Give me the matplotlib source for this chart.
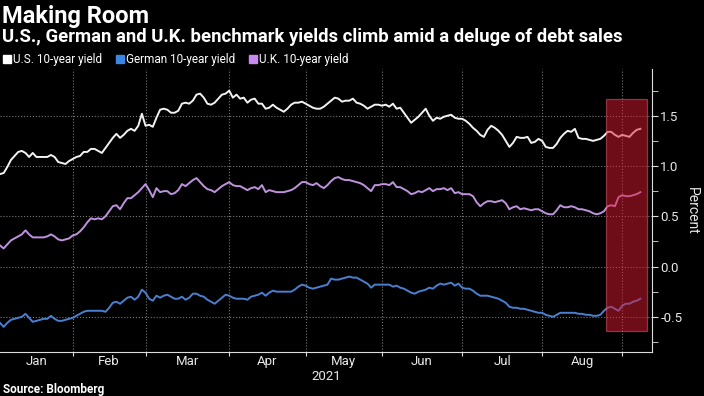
import numpy as np
import pandas as pd
import matplotlib
matplotlib.use('Agg')
import matplotlib.pyplot as plt
from matplotlib.lines import Line2D
from matplotlib.patches import Rectangle

plt.rcParams['font.family'] = ['Roboto', 'DejaVu Sans']

# trading days shown on the chart (Good Friday is missing)
dates = pd.bdate_range('2021-01-04', '2021-09-08').drop(pd.Timestamp('2021-04-02'))

us_10y = [
    0.92, 0.93, 0.99, 1.06, 1.10, 1.14, 1.15, 1.13, 1.09, 1.13,
    1.09, 1.09, 1.09, 1.09, 1.11, 1.09, 1.04, 1.03, 1.02, 1.05,
    1.07, 1.09, 1.10, 1.14, 1.14, 1.17, 1.17, 1.15, 1.13, 1.18,
    1.23, 1.28, 1.32, 1.28, 1.31, 1.35, 1.37, 1.35, 1.40, 1.52,
    1.40, 1.41, 1.39, 1.48, 1.56, 1.57, 1.56, 1.53, 1.53, 1.55,
    1.62, 1.63, 1.62, 1.65, 1.71, 1.72, 1.68, 1.62, 1.61, 1.63,
    1.67, 1.71, 1.72, 1.75, 1.68, 1.71, 1.67, 1.68, 1.63, 1.66,
    1.67, 1.62, 1.62, 1.57, 1.58, 1.61, 1.58, 1.56, 1.54, 1.57,
    1.61, 1.63, 1.63, 1.64, 1.62, 1.60, 1.58, 1.57, 1.57, 1.59,
    1.62, 1.65, 1.68, 1.67, 1.64, 1.65, 1.65, 1.67, 1.63, 1.62,
    1.60, 1.57, 1.59, 1.61, 1.61, 1.60, 1.61, 1.59, 1.62, 1.57,
    1.58, 1.53, 1.48, 1.43, 1.46, 1.49, 1.53, 1.57, 1.50, 1.45,
    1.48, 1.47, 1.49, 1.50, 1.51, 1.48, 1.47, 1.47, 1.45, 1.42,
    1.38, 1.35, 1.31, 1.29, 1.36, 1.40, 1.38, 1.35, 1.31, 1.25,
    1.19, 1.23, 1.29, 1.28, 1.28, 1.29, 1.23, 1.24, 1.27, 1.25,
    1.19, 1.18, 1.18, 1.22, 1.28, 1.32, 1.35, 1.34, 1.37, 1.28,
    1.27, 1.27, 1.26, 1.25, 1.26, 1.27, 1.30, 1.34, 1.34, 1.31,
    1.29, 1.31, 1.30, 1.29, 1.33, 1.36, 1.37]

de_10y = [
    -0.56, -0.60, -0.56, -0.53, -0.52, -0.51, -0.50, -0.47, -0.51, -0.55,
    -0.54, -0.53, -0.52, -0.52, -0.49, -0.52, -0.54, -0.54, -0.53, -0.52,
    -0.51, -0.49, -0.47, -0.45, -0.44, -0.44, -0.44, -0.44, -0.44, -0.45,
    -0.41, -0.36, -0.35, -0.37, -0.34, -0.31, -0.30, -0.33, -0.30, -0.23,
    -0.26, -0.32, -0.34, -0.29, -0.31, -0.29, -0.28, -0.30, -0.32, -0.32,
    -0.30, -0.33, -0.31, -0.27, -0.27, -0.29, -0.30, -0.33, -0.35, -0.37,
    -0.34, -0.31, -0.28, -0.29, -0.31, -0.32, -0.32, -0.32, -0.33, -0.30,
    -0.29, -0.28, -0.26, -0.29, -0.26, -0.24, -0.25, -0.25, -0.25, -0.25,
    -0.25, -0.23, -0.20, -0.18, -0.19, -0.21, -0.22, -0.21, -0.20, -0.19,
    -0.18, -0.12, -0.13, -0.13, -0.12, -0.11, -0.10, -0.11, -0.11, -0.13,
    -0.15, -0.17, -0.21, -0.18, -0.18, -0.18, -0.18, -0.18, -0.20, -0.19,
    -0.21, -0.22, -0.24, -0.26, -0.27, -0.25, -0.24, -0.23, -0.21, -0.22,
    -0.19, -0.17, -0.18, -0.17, -0.16, -0.19, -0.17, -0.21, -0.22, -0.22,
    -0.24, -0.27, -0.29, -0.29, -0.29, -0.30, -0.31, -0.32, -0.34, -0.36,
    -0.40, -0.41, -0.41, -0.42, -0.42, -0.43, -0.44, -0.45, -0.46, -0.46,
    -0.48, -0.49, -0.50, -0.48, -0.46, -0.46, -0.46, -0.46, -0.46, -0.47,
    -0.47, -0.48, -0.48, -0.49, -0.49, -0.48, -0.44, -0.41, -0.40, -0.42,
    -0.44, -0.39, -0.37, -0.37, -0.35, -0.34, -0.32]

uk_10y = [
    0.21, 0.18, 0.22, 0.26, 0.28, 0.30, 0.32, 0.36, 0.32, 0.29,
    0.29, 0.29, 0.29, 0.30, 0.32, 0.30, 0.27, 0.26, 0.27, 0.28,
    0.31, 0.32, 0.35, 0.39, 0.44, 0.48, 0.47, 0.48, 0.47, 0.50,
    0.55, 0.60, 0.61, 0.57, 0.63, 0.68, 0.68, 0.71, 0.74, 0.78,
    0.82, 0.76, 0.69, 0.78, 0.74, 0.75, 0.75, 0.72, 0.73, 0.76,
    0.82, 0.80, 0.83, 0.86, 0.88, 0.84, 0.80, 0.77, 0.76, 0.74,
    0.77, 0.80, 0.82, 0.84, 0.81, 0.80, 0.80, 0.78, 0.76, 0.78,
    0.79, 0.77, 0.81, 0.74, 0.76, 0.75, 0.74, 0.74, 0.74, 0.75,
    0.76, 0.78, 0.81, 0.84, 0.84, 0.82, 0.81, 0.83, 0.80, 0.78,
    0.81, 0.85, 0.88, 0.89, 0.87, 0.86, 0.86, 0.85, 0.84, 0.83,
    0.81, 0.78, 0.75, 0.81, 0.81, 0.82, 0.82, 0.81, 0.84, 0.79,
    0.79, 0.77, 0.75, 0.72, 0.73, 0.75, 0.74, 0.76, 0.78, 0.75,
    0.77, 0.77, 0.78, 0.76, 0.78, 0.73, 0.74, 0.72, 0.72, 0.72,
    0.70, 0.64, 0.60, 0.63, 0.65, 0.65, 0.64, 0.65, 0.66, 0.63,
    0.57, 0.59, 0.60, 0.57, 0.58, 0.57, 0.56, 0.57, 0.57, 0.55,
    0.53, 0.52, 0.52, 0.56, 0.61, 0.59, 0.59, 0.60, 0.59, 0.57,
    0.57, 0.56, 0.55, 0.53, 0.52, 0.53, 0.55, 0.60, 0.61, 0.60,
    0.69, 0.71, 0.70, 0.70, 0.71, 0.72, 0.74]

labels = ['U.S. 10-year yield', 'German 10-year yield', 'U.K. 10-year yield']
colors = ['#f2f2f2', '#4a80d0', '#bf93e0']
legend_colors = ['#ffffff', '#3a86e6', '#c88af0']
month_labels = ['Jan', 'Feb', 'Mar', 'Apr', 'May', 'Jun', 'Jul', 'Aug']

x = np.arange(len(dates))

# first trading day of each month -> gridlines, month names in between
month_start = [i for i in range(1, len(dates)) if dates[i].month != dates[i - 1].month]
edges = [0] + month_start
label_pos = [(edges[k] + edges[k + 1]) / 2 for k in range(len(month_labels))]

fig = plt.figure(figsize=(7.04, 3.96), dpi=100, facecolor='black')
ax = fig.add_axes([0.0, 44 / 396, 652 / 704, 283 / 396])
ax.set_facecolor('black')

for series, c in zip([us_10y, de_10y, uk_10y], colors):
    ax.plot(x, series, color=c, lw=1.4, zorder=3)

# highlighted period
ax.add_patch(Rectangle((166.5, -0.646), 11.3, 2.316, facecolor='#dc1830',
                       edgecolor='#f06070', lw=0.9, alpha=0.5, zorder=4))

ax.set_xlim(0, 179.2)
ax.set_ylim(-0.85, 1.965)

ax.set_xticks(month_start)
ax.set_xticklabels([])
ax.set_xticks(label_pos, minor=True)
ax.set_xticklabels(month_labels, minor=True)
ax.tick_params(axis='x', which='major', length=3, color='#dddddd')
ax.tick_params(axis='x', which='minor', length=0, pad=2, labelsize=9.5, labelcolor='#e8e8e8')

ax.yaxis.tick_right()
ax.yaxis.set_label_position('right')
ax.set_yticks([-0.5, 0.0, 0.5, 1.0, 1.5])
ax.set_yticklabels(['-0.5', '0.0', '0.5', '1.0', '1.5'])
ax.set_yticks([-0.75, -0.25, 0.25, 0.75, 1.25, 1.75], minor=True)
ax.tick_params(axis='y', which='both', length=4, color='#dddddd', pad=2,
               labelsize=9.5, labelcolor='#e8e8e8')
ax.set_ylabel('Percent', rotation=270, color='#e8e8e8', fontsize=10, labelpad=12)

ax.grid(True, which='major', color='#777777', linestyle=':', linewidth=0.8)
for s in ['top', 'left']:
    ax.spines[s].set_visible(False)
for s in ['right', 'bottom']:
    ax.spines[s].set_color('#dddddd')

# titles and legend
fig.text(0.003, 1 - 16 / 396, 'Making Room', color='white', fontsize=17,
         fontweight='bold', va='center')
fig.text(0.003, 1 - 37 / 396, 'U.S., German and U.K. benchmark yields climb amid a deluge of debt sales',
         color='white', fontsize=13.3, fontweight='bold', va='center')
handles = [Line2D([], [], marker='s', ls='none', color=c, markersize=6) for c in legend_colors]
fig.legend(handles, labels, loc='center left', bbox_to_anchor=(-0.003, 1 - 60 / 396), ncol=3,
           frameon=False, fontsize=8.5, labelcolor='white', handlelength=0.8,
           handletextpad=0.1, columnspacing=1.1, borderaxespad=0)

fig.text(326 / 704, 1 - 376 / 396, '2021', color='#e8e8e8', fontsize=9.5, ha='center', va='center')
fig.text(0.004, 1 - 389 / 396, 'Source: Bloomberg', color='white', fontsize=8.5,
         fontweight='bold', va='center')

fig.savefig('out.png', dpi=100, facecolor='black')
